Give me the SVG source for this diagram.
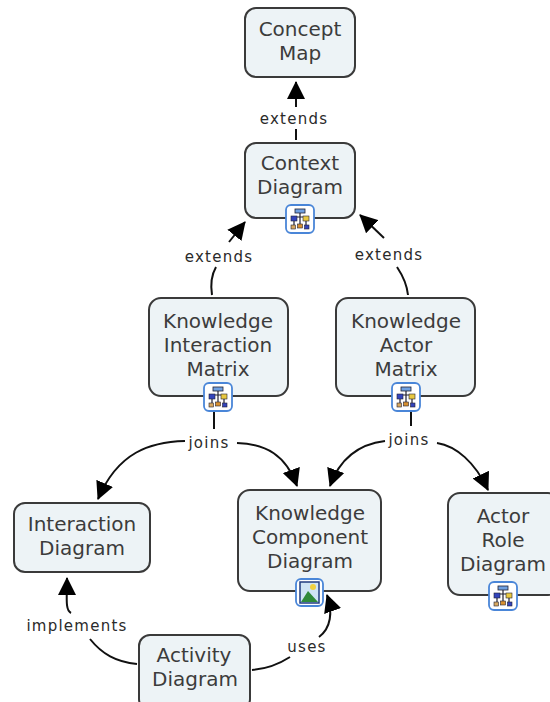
<svg xmlns="http://www.w3.org/2000/svg" width="550" height="702" viewBox="0 0 550 702">
<style>
.box{fill:#edf3f6;stroke:#3a3a3a;stroke-width:2}
.t{font-family:"DejaVu Sans",Verdana,sans-serif;font-size:20px;fill:#3c3c3c;text-anchor:middle}
.l{font-family:"DejaVu Sans",Verdana,sans-serif;font-size:15px;fill:#2a2a2a;text-anchor:middle;letter-spacing:1.250px}
.c{fill:none;stroke:#111;stroke-width:2}
.ib{fill:#fff;stroke:#4a86d8;stroke-width:1.800}
</style>
<defs>
<marker id="a" viewBox="0 0 18 18" refX="17" refY="9" markerWidth="18" markerHeight="18" markerUnits="userSpaceOnUse" orient="auto"><path d="M0 0L18 9L0 18z" fill="#000"/></marker>
<g id="tree">
<rect class="ib" x="-14" y="-14" width="28" height="28" rx="5"/>
<path d="M0-6V7M-6-2V6M6-2V6M-6-2H6" fill="none" stroke="#223" stroke-width="1.200"/>
<rect x="-5" y="-10" width="10" height="4" fill="#6fa0e0" stroke="#223" stroke-width=".8"/>
<rect x="-9" y="-3" width="6" height="5" fill="#3344bb" stroke="#223" stroke-width=".6"/>
<rect x="3" y="-3" width="6" height="5" fill="#e8c840" stroke="#223" stroke-width=".6"/>
<rect x="-9" y="6" width="4.500" height="4" fill="#d8a860" stroke="#223" stroke-width=".6"/>
<rect x="-2.500" y="5" width="5" height="4" fill="#d89030" stroke="#223" stroke-width=".6"/>
<rect x="4.500" y="6" width="4.500" height="4" fill="#3344bb" stroke="#223" stroke-width=".6"/>
</g>
</defs>
<rect width="550" height="702" fill="#fff"/>
<g id="connectors">
<path class="c" d="M296 107V82" marker-end="url(#a)"/>
<path class="c" d="M296 140V129"/>
<path class="c" d="M212 295C210 282 212 274 216 267"/>
<path class="c" d="M229 242L245 222" marker-end="url(#a)"/>
<path class="c" d="M408 295C407 285 403 276 397 267"/>
<path class="c" d="M384 238L360 215" marker-end="url(#a)"/>
<path class="c" d="M214 412V429"/>
<path class="c" d="M185 441C150 442 118 452 98 499" marker-end="url(#a)"/>
<path class="c" d="M237 443C266 444 286 455 297 486" marker-end="url(#a)"/>
<path class="c" d="M411 412V426"/>
<path class="c" d="M385 441C360 444 340 458 330 486" marker-end="url(#a)"/>
<path class="c" d="M437 443C456 446 475 462 488 490" marker-end="url(#a)"/>
<path class="c" d="M137 664C116 662 102 654 90 639"/>
<path class="c" d="M71 613C65 610 67 598 67 578" marker-end="url(#a)"/>
<path class="c" d="M252 670C265 669 276 666 290 657"/>
<path class="c" d="M319 637C331 628 333 612 327 595" marker-end="url(#a)"/>
</g>
<g id="concept-map"><rect class="box" x="245" y="8" width="110" height="69" rx="11"/><text class="t" x="300" y="36">Concept</text><text class="t" x="300" y="60">Map</text></g>
<g id="context-diagram"><rect class="box" x="245" y="143" width="110" height="75" rx="11"/><text class="t" x="300" y="170">Context</text><text class="t" x="300" y="194">Diagram</text><use href="#tree" x="300" y="219"/></g>
<g id="knowledge-interaction-matrix"><rect class="box" x="149" y="298" width="139" height="98" rx="12"/><text class="t" x="218" y="328">Knowledge</text><text class="t" x="218" y="352">Interaction</text><text class="t" x="218" y="376">Matrix</text><use href="#tree" x="218" y="397"/></g>
<g id="knowledge-actor-matrix"><rect class="box" x="336" y="298" width="139" height="98" rx="12"/><text class="t" x="406" y="328">Knowledge</text><text class="t" x="406" y="352">Actor</text><text class="t" x="406" y="376">Matrix</text><use href="#tree" x="406" y="397"/></g>
<g id="interaction-diagram"><rect class="box" x="14" y="503" width="136" height="69" rx="11"/><text class="t" x="82" y="531">Interaction</text><text class="t" x="82" y="555">Diagram</text></g>
<g id="knowledge-component-diagram"><rect class="box" x="238" y="490" width="143" height="101" rx="12"/><text class="t" x="310" y="520">Knowledge</text><text class="t" x="310" y="544">Component</text><text class="t" x="310" y="568">Diagram</text>
<rect class="ib" x="296" y="579" width="27" height="27" rx="5"/><rect x="300" y="582" width="19" height="21" fill="#cfe4f5" stroke="#223c80" stroke-width="1.500"/><circle cx="313" cy="587" r="3" fill="#f0d040"/><path d="M301 602L308 591L318 602z" fill="#2f8a3a"/></g>
<g id="actor-role-diagram"><rect class="box" x="448" y="493" width="112" height="102" rx="12"/><text class="t" x="503" y="523">Actor</text><text class="t" x="503" y="547">Role</text><text class="t" x="503" y="571">Diagram</text><use href="#tree" x="503" y="596"/></g>
<g id="activity-diagram"><rect class="box" x="139" y="635" width="111" height="75" rx="11"/><text class="t" x="194" y="662">Activity</text><text class="t" x="195" y="686">Diagram</text></g>
<g id="labels">
<text class="l" x="294" y="124">extends</text>
<text class="l" x="219" y="262">extends</text>
<text class="l" x="389" y="260">extends</text>
<text class="l" x="209" y="448">joins</text>
<text class="l" x="409" y="445">joins</text>
<text class="l" x="77" y="631">implements</text>
<text class="l" x="307" y="652">uses</text>
</g>
</svg>
